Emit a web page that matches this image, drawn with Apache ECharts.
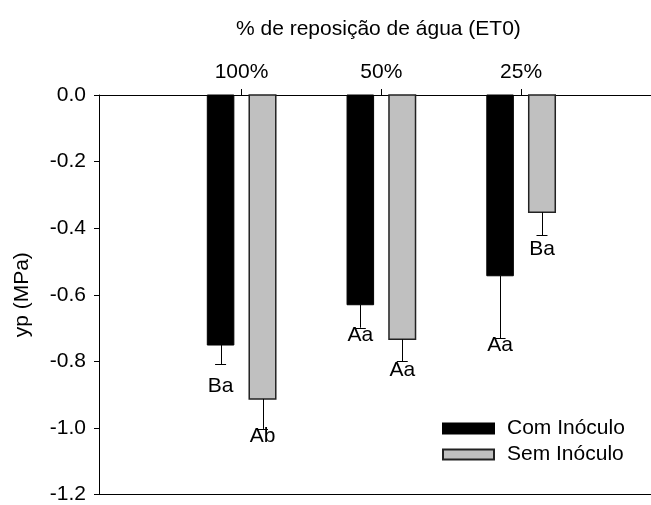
<!DOCTYPE html>
<html>
<head>
<meta charset="utf-8">
<script src="https://cdn.jsdelivr.net/npm/echarts@6/dist/echarts.min.js"></script>
<style>html,body{margin:0;padding:0;background:#fff}#c{width:651px;height:505px}</style>
</head>
<body>
<div id="c"></div>
<script>
var categories = ['100%', '50%', '25%'];
var comInoculo = [-0.751, -0.630, -0.543];
var semInoculo = [-0.913, -0.734, -0.352];
var comErr = [0.058, 0.069, 0.188];
var semErr = [0.090, 0.066, 0.069];
var comLetters = ['Ba', 'Aa', 'Aa'];
var semLetters = ['Ab', 'Aa', 'Ba'];
var comLabelY = [-0.875, -0.722, -0.752];
var semLabelY = [-1.024, -0.827, -0.463];
var yTicks = [0, -0.2, -0.4, -0.6, -0.8, -1.0, -1.2];

var FONT = 'Liberation Sans, Arial, sans-serif';
var FS = 21;
var chart = echarts.init(document.getElementById('c'), null, {renderer: 'canvas'});

function makeData(vals, errs, letters, labY) {
  return vals.map(function (v, i) { return [i + 1, v, errs[i], letters[i], labY[i]]; });
}

function renderer(offset, fill, stroke, strokeW) {
  return function (params, api) {
    var x = api.value(0), v = api.value(1), e = api.value(2), lab = api.value(3), ly = api.value(4);
    var base = api.coord([x, 0]);
    var top = api.coord([x, v]);
    var w = api.size([0.19, 0])[0];
    var cx = base[0] + api.size([Math.abs(offset), 0])[0] * (offset < 0 ? -1 : 1);
    var errEnd = api.coord([x, v - e]);
    var labPt = api.coord([x, ly]);
    var capW = 11;
    return {
      type: 'group',
      children: [
        {type: 'rect', shape: {x: cx - w / 2, y: base[1], width: w, height: top[1] - base[1]},
         style: {fill: fill, stroke: stroke, lineWidth: strokeW}},
        {type: 'line', shape: {x1: Math.round(cx) + 0.5, y1: top[1], x2: Math.round(cx) + 0.5, y2: errEnd[1]},
         style: {stroke: '#000', lineWidth: 1}},
        {type: 'line', shape: {x1: cx - capW / 2, y1: Math.round(errEnd[1]) + 0.5, x2: cx + capW / 2, y2: Math.round(errEnd[1]) + 0.5},
         style: {stroke: '#000', lineWidth: 1}},
        {type: 'text', x: cx, y: labPt[1],
         style: {text: lab, fill: '#000', font: FS + 'px ' + FONT, align: 'center', verticalAlign: 'middle'}}
      ]
    };
  };
}

var option = {
  animation: false,
  backgroundColor: '#fff',
  title: {
    text: '% de reposição de água (ET0)',
    left: 231, top: 14,
    textStyle: {fontFamily: FONT, fontSize: FS, fontWeight: 'normal', color: '#000'}
  },
  legend: {
    orient: 'vertical',
    left: 437, top: 413,
    itemWidth: 51, itemHeight: 10, itemGap: 5,
    icon: 'rect',
    textStyle: {fontFamily: FONT, fontSize: FS, color: '#000', padding: [0, 0, 0, 8]},
    data: ['Com Inóculo', 'Sem Inóculo']
  },
  grid: {left: 99, right: 0, top: 95, bottom: 8, containLabel: false},
  xAxis: [{
    type: 'value', position: 'top', min: -0.02, max: 3.93,
    axisLine: {show: true, lineStyle: {color: '#000', width: 1}},
    axisTick: {show: true, inside: false, length: 6, lineStyle: {color: '#000'}, customValues: [1, 2, 3]},
    axisLabel: {show: true, margin: 12, fontFamily: FONT, fontSize: FS, color: '#000', customValues: [1, 2, 3],
      formatter: function (v) { return categories[Math.round(v) - 1] || ''; }},
    splitLine: {show: false}
  }, {
    type: 'value', position: 'bottom', min: -0.02, max: 3.93,
    axisLine: {show: true, onZero: false, lineStyle: {color: '#000', width: 1}},
    axisTick: {show: false}, axisLabel: {show: false}, splitLine: {show: false}
  }],
  yAxis: {
    type: 'value', min: -1.2, max: 0, interval: 0.2,
    name: 'yp (MPa)', nameLocation: 'middle', nameGap: 66, nameRotate: 90,
    nameTextStyle: {fontFamily: FONT, fontSize: FS, color: '#000'},
    axisLine: {show: true, onZero: false, lineStyle: {color: '#000', width: 1}},
    axisTick: {show: true, length: 5, lineStyle: {color: '#000'}},
    axisLabel: {margin: 13, fontFamily: FONT, fontSize: FS, color: '#000',
      customValues: yTicks,
      formatter: function (v) { return v.toFixed(1); }},
    splitLine: {show: false}
  },
  series: [{
    name: 'Com Inóculo', type: 'custom', xAxisIndex: 0,
    itemStyle: {color: '#000', borderColor: '#000', borderWidth: 1},
    renderItem: renderer(-0.15, '#000', '#000', 1),
    encode: {x: 0, y: 1},
    data: makeData(comInoculo, comErr, comLetters, comLabelY)
  }, {
    name: 'Sem Inóculo', type: 'custom', xAxisIndex: 0,
    itemStyle: {color: '#c0c0c0', borderColor: '#222', borderWidth: 1.5},
    renderItem: renderer(0.15, '#c0c0c0', '#222', 1.5),
    encode: {x: 0, y: 1},
    data: makeData(semInoculo, semErr, semLetters, semLabelY)
  }]
};
chart.setOption(option);
</script>
</body>
</html>
